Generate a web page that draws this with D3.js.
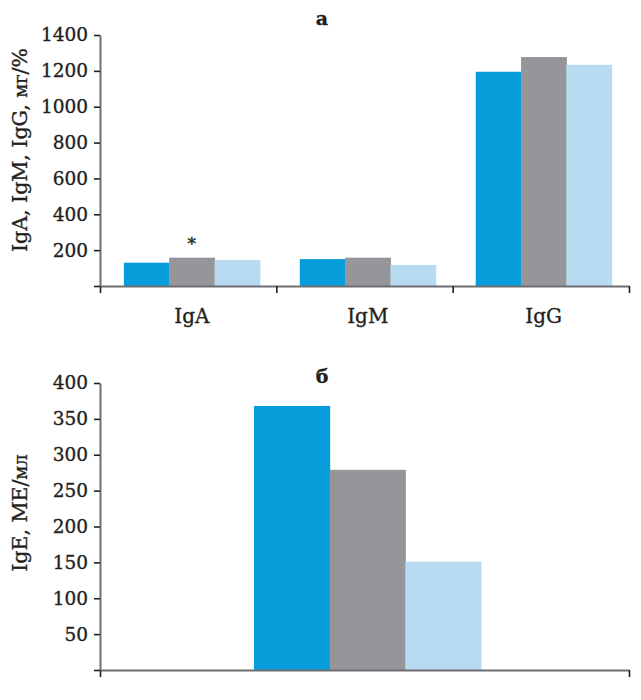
<!DOCTYPE html>
<html>
<head>
<meta charset="utf-8">
<script src="https://cdn.jsdelivr.net/npm/d3@7"></script>
<style>
  body { margin: 0; background: #fff; }
  text { font-family: "DejaVu Serif", "Liberation Serif", serif; fill: #231f20; stroke: #231f20; stroke-width: 0.35px; }
</style>
</head>
<body>
<svg width="641" height="700"></svg>
<script>
// data
var groupsA = ["IgA", "IgM", "IgG"];
var seriesNames = ["Группа 1", "Группа 2", "Группа 3"];
var valuesA = [
  [130, 158, 145],     // IgA
  [150, 158, 117],     // IgM
  [1195, 1277, 1234]   // IgG
];
var marksA = ["", "*", ""];      // only the IgA gray bar is marked
var ticksA = [0, 200, 400, 600, 800, 1000, 1200, 1400];

var groupsB = ["IgE"];
var valuesB = [[368, 279, 151]];
var ticksB = [0, 50, 100, 150, 200, 250, 300, 350, 400];

var colors = ["#069ddb", "#959699", "#b9dbf2"];
var axisColor = "#6d6e71";

var svg = d3.select("svg");

function drawPanel(opts) {
  var g = svg.append("g").attr("id", opts.id);

  var x = d3.scaleBand()
      .domain(opts.groups)
      .range([100, 629])
      .paddingInner(opts.padIn)
      .paddingOuter(opts.padOut)
      .align(opts.align);

  var xs = d3.scaleBand()
      .domain(d3.range(seriesNames.length))
      .range([0, x.bandwidth()]);

  var y = d3.scaleLinear()
      .domain([0, d3.max(opts.ticks)])
      .range([opts.bottom, opts.top]);

  // bars
  var grp = g.selectAll(".grp")
      .data(opts.values)
      .enter().append("g")
      .attr("class", "grp")
      .attr("transform", function (d, i) { return "translate(" + x(opts.groups[i]) + ",0)"; });

  grp.selectAll("rect")
      .data(function (d) { return d; })
      .enter().append("rect")
      .attr("x", function (d, j) { return xs(j); })
      .attr("width", xs.bandwidth() + 0.5)
      .attr("y", function (d) { return y(d); })
      .attr("height", function (d) { return y(0) - y(d); })
      .attr("fill", function (d, j) { return colors[j]; });

  // significance marks
  if (opts.marks) {
    grp.filter(function (d, i) { return i === 0; })
      .selectAll(".mark")
      .data(function (d) { return d; })
      .enter().append("text")
      .attr("class", "mark")
      .attr("x", function (d, j) { return xs(j) + xs.bandwidth() / 2; })
      .attr("y", function (d) { return y(d) - 8; })
      .attr("text-anchor", "middle")
      .style("font-size", "17px")
      .text(function (d, j) { return opts.marks[j]; });
  }

  // x axis: boundaries between groups
  var xb = d3.scaleLinear().domain([0, opts.groups.length]).range([100, 629]);
  var xAxis = g.append("g")
      .attr("transform", "translate(0," + y(0) + ")")
      .call(d3.axisBottom(xb)
        .tickValues(d3.range(opts.groups.length + 1))
        .tickSize(7)
        .tickSizeOuter(0)
        .tickFormat(""));

  // y axis
  var yAxis = g.append("g")
      .attr("transform", "translate(100,0)")
      .call(d3.axisLeft(y)
        .tickValues(opts.ticks)
        .tickSize(6)
        .tickSizeOuter(0)
        .tickPadding(6)
        .tickFormat(function (d) { return d === 0 ? "" : d; }));

  [xAxis, yAxis].forEach(function (a) {
    a.select(".domain").attr("stroke", axisColor).attr("stroke-width", 2);
    a.selectAll(".tick line").attr("stroke", "#231f20").attr("stroke-width", 1.6);
    a.selectAll(".tick text").style("font-size", "18.5px").attr("fill", "#231f20");
  });

  // category labels
  if (opts.showLabels) {
    g.selectAll(".cat")
        .data(opts.groups)
        .enter().append("text")
        .attr("class", "cat")
        .attr("x", function (d) { return x(d) + x.bandwidth() / 2; })
        .attr("y", y(0) + 37)
        .attr("text-anchor", "middle")
        .style("font-size", "20px")
        .text(function (d) { return d; });
  }

  // panel letter
  g.append("text")
      .attr("x", 322)
      .attr("y", opts.titleY)
      .attr("text-anchor", "middle")
      .style("font-size", "19px")
      .style("font-weight", "bold")
      .text(opts.title);

  // y label
  var lab = g.append("text")
      .attr("transform", "translate(27," + opts.labelY + ") rotate(-90)")
      .attr("text-anchor", "middle")
      .style("font-size", "20.5px");
  lab.append("tspan").text(opts.label[0]);
  lab.append("tspan").style("font-size", "18px").text(opts.label[1]);
  lab.append("tspan").text(opts.label[2]);
}

drawPanel({
  id: "panelA", groups: groupsA, values: valuesA, ticks: ticksA, marks: marksA,
  top: 35, bottom: 286, padIn: 0.227, padOut: 0.117, align: 0.58,
  showLabels: true, title: "а", titleY: 25, labelY: 150,
  label: ["IgA, IgM, IgG, ", "мг", "/%"]
});

drawPanel({
  id: "panelB", groups: groupsB, values: valuesB, ticks: ticksB,
  top: 383, bottom: 670, padIn: 0, padOut: 0.665, align: 0.51,
  showLabels: false, title: "б", titleY: 383, labelY: 513,
  label: ["IgE, МЕ/", "мл", ""]
});
</script>
</body>
</html>
